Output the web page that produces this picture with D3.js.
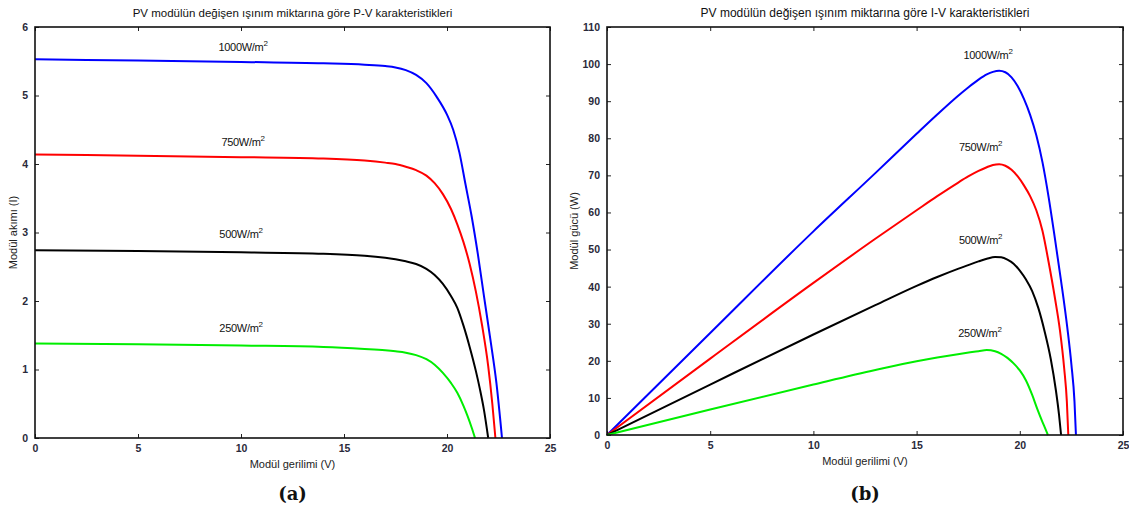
<!DOCTYPE html>
<html><head><meta charset="utf-8">
<script src="https://cdn.jsdelivr.net/npm/d3@7"></script>
<style>
body{margin:0;background:#fff;}
svg{display:block;font-family:"Liberation Sans",Arial,sans-serif;}
</style></head>
<body><svg id="c" width="1129" height="512"></svg>
<script>
// ---- Data ----
const irradianceLabels = ["1000", "750", "500", "250"];
const seriesColors = ["#0000ff", "#ff0000", "#000000", "#00ee00"];

// Left chart: module current (A) vs voltage (V)
const iv1000 = [[0,5.53],[5,5.51],[10,5.49],[14,5.47],[16,5.45],[17,5.43],[17.5,5.41],[18,5.37],[18.5,5.30],[19,5.18],[19.5,4.98],[20,4.72],[20.3,4.50],[20.6,4.17],[20.9,3.70],[21.2,3.23],[21.5,2.68],[21.8,2.06],[22.1,1.45],[22.4,0.80],[22.67,0]];
const iv750  = [[0,4.14],[5,4.12],[10,4.10],[14,4.08],[16,4.05],[17,4.02],[17.5,4.00],[18,3.96],[18.5,3.91],[19,3.83],[19.4,3.72],[19.8,3.56],[20.2,3.34],[20.5,3.12],[20.8,2.86],[21.1,2.54],[21.4,2.14],[21.7,1.65],[22.0,1.05],[22.2,0.50],[22.35,0]];
const iv500  = [[0,2.74],[5,2.73],[10,2.71],[14,2.69],[16,2.66],[17,2.63],[17.5,2.61],[18,2.58],[18.5,2.54],[19,2.47],[19.4,2.38],[19.8,2.25],[20.2,2.07],[20.5,1.90],[20.8,1.64],[21.1,1.33],[21.4,0.98],[21.6,0.71],[21.8,0.40],[22.0,0]];
const iv250  = [[0,1.38],[5,1.37],[10,1.35],[14,1.33],[16,1.30],[17,1.28],[17.5,1.265],[18,1.245],[18.5,1.21],[19,1.15],[19.4,1.07],[19.8,0.95],[20.2,0.80],[20.5,0.66],[20.8,0.47],[21.0,0.32],[21.2,0.15],[21.36,0]];

// Right chart: module power (W) vs voltage (V)
const pv1000 = [[0,0],[5,27.5],[10,54.9],[13,70.6],[15,81.2],[16,86.4],[17,91.4],[17.5,93.7],[18,95.8],[18.4,97.2],[18.7,97.9],[19.0,98.2],[19.3,97.8],[19.6,96.4],[19.9,94.0],[20.2,90.6],[20.5,86.3],[20.8,80.8],[21.1,73.5],[21.4,64],[21.7,53],[22.0,41.5],[22.3,29],[22.5,19],[22.65,9],[22.72,0]];
const pv750  = [[0,0],[5,20.6],[10,41],[13,52.9],[15,60.6],[16,64.4],[17,68],[17.5,69.7],[18,71.2],[18.4,72.2],[18.7,72.8],[19.0,73.0],[19.3,72.6],[19.6,71.5],[19.9,69.7],[20.2,67.3],[20.5,64.4],[20.8,60.6],[21.1,55],[21.4,46.5],[21.7,37],[21.95,28],[22.15,18],[22.28,9],[22.35,0]];
const pv500  = [[0,0],[5,13.6],[10,27.1],[13,35.0],[15,40.2],[16,42.6],[17,44.8],[17.5,45.8],[18,46.8],[18.4,47.5],[18.8,48.0],[19.1,47.9],[19.4,47.3],[19.7,46.2],[20.0,44.3],[20.3,41.9],[20.6,38.8],[20.9,34.2],[21.2,28.0],[21.5,20.5],[21.75,12],[21.9,5.5],[22.0,0]];
const pv250  = [[0,0],[5,6.9],[10,13.6],[13,17.5],[15,19.9],[16,20.9],[17,21.8],[17.6,22.3],[18.0,22.6],[18.4,22.9],[18.8,22.6],[19.1,21.9],[19.4,20.8],[19.7,19.3],[20.0,17.4],[20.3,14.7],[20.6,10.8],[20.85,7],[21.1,3.5],[21.25,1.5],[21.36,0]];

const xTicks = [0,5,10,15,20,25];
const yTicksLeft = [0,1,2,3,4,5,6];
const yTicksRight = [0,10,20,30,40,50,60,70,80,90,100,110];

const leftTitle = "PV modülün değişen ışınım miktarına göre P-V karakteristikleri";
const rightTitle = "PV modülün değişen ışınım miktarına göre I-V karakteristikleri";
const xLabel = "Modül gerilimi (V)";
const yLabelLeft = "Modül akımı (I)";
const yLabelRight = "Modül gücü (W)";
const panelLabels = ["(a)", "(b)"];

// label anchor values (data coords) for curve annotations
const leftLabelPos = [[10.1,5.65],[10.1,4.26],[10.0,2.92],[10.0,1.55]];
const rightLabelPos = [[18.46,101.3],[18.1,76.5],[18.1,51.5],[18.07,26.4]];

const svg = d3.select("#c");

function panel(cfg){
  const x = d3.scaleLinear().domain([0,25]).range([cfg.x0,cfg.x1]);
  const y = d3.scaleLinear().domain(cfg.ydom).range([cfg.yb,cfg.yt]);
  const g = svg.append("g");
  const tk = 4;
  const ax = g.append("g").attr("transform",`translate(0,${cfg.yb})`)
    .call(d3.axisBottom(x).tickValues(xTicks).tickSize(-tk).tickPadding(7).tickFormat(d3.format("d")));
  const axT = g.append("g").attr("transform",`translate(0,${cfg.yt})`)
    .call(d3.axisTop(x).tickValues(xTicks).tickSize(-tk).tickFormat(""));
  const ay = g.append("g").attr("transform",`translate(${cfg.x0},0)`)
    .call(d3.axisLeft(y).tickValues(cfg.yticks).tickSize(-tk).tickPadding(7).tickFormat(d3.format("d")));
  const ayR = g.append("g").attr("transform",`translate(${cfg.x1},0)`)
    .call(d3.axisRight(y).tickValues(cfg.yticks).tickSize(-tk).tickFormat(""));
  [ax,axT,ay,ayR].forEach(a=>{
    a.select(".domain").remove();
    a.selectAll(".tick line").attr("stroke","#222").attr("stroke-width",1);
    a.selectAll(".tick text").attr("font-size",10.5).attr("font-weight","bold").attr("fill","#2a2a3a")
      .attr("font-family","Liberation Sans, Arial, sans-serif");
  });
  const line = d3.line().x(d=>x(d[0])).y(d=>y(d[1])).curve(d3.curveMonotoneX);
  cfg.series.forEach((s,i)=>{
    g.append("path").attr("d",line(s)).attr("fill","none")
      .attr("stroke",seriesColors[i]).attr("stroke-width",2);
  });
  g.append("rect").attr("x",cfg.x0).attr("y",cfg.yt).attr("width",cfg.x1-cfg.x0).attr("height",cfg.yb-cfg.yt)
    .attr("fill","none").attr("stroke","#111").attr("stroke-width",1.6);
  cfg.labelPos.forEach((p,i)=>{
    const t = g.append("text").attr("x",x(p[0])).attr("y",y(p[1])).attr("text-anchor","middle")
      .attr("font-size",11).attr("fill","#111").attr("letter-spacing","-0.3");
    t.append("tspan").text(irradianceLabels[i]+"W/m");
    t.append("tspan").text("2").attr("dy",-5).attr("font-size",8);
  });
  g.append("text").attr("x",(cfg.x0+cfg.x1)/2).attr("y",17).attr("text-anchor","middle")
    .attr("font-size",cfg.titleSize).attr("fill","#111").text(cfg.title);
  g.append("text").attr("x",(cfg.x0+cfg.x1)/2).attr("y",cfg.yb+30).attr("text-anchor","middle")
    .attr("font-size",11).attr("fill","#222").text(xLabel);
  g.append("text").attr("transform",`translate(${cfg.ylx},${(cfg.yt+cfg.yb)/2}) rotate(-90)`)
    .attr("text-anchor","middle").attr("font-size",11).attr("fill","#222").text(cfg.ylabel);
  g.append("text").attr("x",(cfg.x0+cfg.x1)/2).attr("y",500).attr("text-anchor","middle")
    .attr("font-family","DejaVu Serif, Liberation Serif, serif").attr("font-weight","bold")
    .attr("font-size",18).attr("fill","#111").text(cfg.panel);
}

panel({x0:35,x1:550,yt:27,yb:438,ydom:[0,6],yticks:yTicksLeft,titleSize:11.5,
  series:[iv1000,iv750,iv500,iv250],labelPos:leftLabelPos,title:leftTitle,ylabel:yLabelLeft,ylx:17,panel:panelLabels[0]});
panel({x0:607,x1:1123,yt:27,yb:435,ydom:[0,110],yticks:yTicksRight,titleSize:12,
  series:[pv1000,pv750,pv500,pv250],labelPos:rightLabelPos,title:rightTitle,ylabel:yLabelRight,ylx:578,panel:panelLabels[1]});
</script></body></html>
